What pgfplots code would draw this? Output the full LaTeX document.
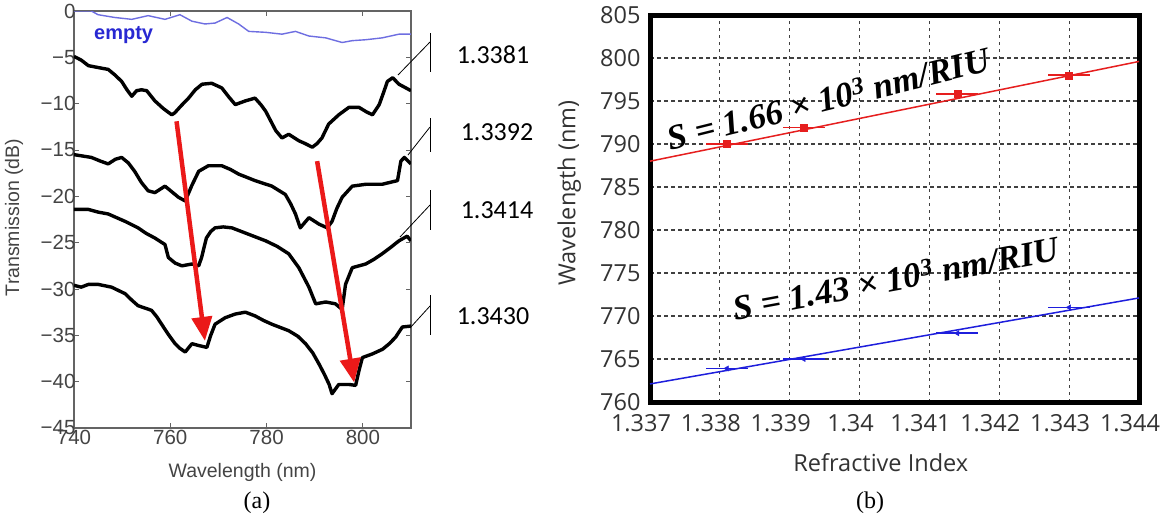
\documentclass[border=0pt]{standalone}
\usepackage{pgfplots}
\pgfplotsset{compat=1.18}
\usepackage{fontspec}
\usetikzlibrary{arrows.meta}
\setmainfont{Liberation Sans}
\newfontfamily\carlito{Carlito}
\newfontfamily\opensans{Open Sans}
\newfontfamily\timesf{Liberation Serif}
\definecolor{arrowred}{RGB}{235,25,25}
\definecolor{emptyblue}{RGB}{110,110,225}
\definecolor{emptytext}{RGB}{40,40,210}
\definecolor{fitred}{RGB}{230,30,30}
\definecolor{fitblue}{RGB}{30,30,220}
\definecolor{axgray}{RGB}{100,100,100}
\definecolor{labgray}{RGB}{68,68,68}
\newcommand{\sens}[1]{{\timesf\bfseries\itshape S = #1 × 10\textsuperscript{3} nm/RIU}}
\begin{document}
\begin{tikzpicture}
\path[use as bounding box, fill=white] (0pt,0pt) rectangle (1166pt,-520pt);
% ---------------- panel (a)
\begin{axis}[
  at={(74pt,-428pt)}, anchor=south west, scale only axis,
  width=337pt, height=417pt,
  xmin=740, xmax=810, ymin=-45, ymax=0,
  xtick={740,760,780,800}, ytick={-45,-40,-35,-30,-25,-20,-15,-10,-5,0},
  yticklabels={−45,−40,−35,−30,−25,−20,−15,−10,−5,0},
  tick align=inside, major tick length=5pt,
  axis line style={axgray, line width=1.3pt},
  tick style={axgray, line width=1pt},
  ticklabel style={font=\fontsize{20.5}{20.5}\selectfont, text=labgray},
  yticklabel style={xshift=5pt},
  xticklabel style={yshift=1pt},
  /pgf/number format/assume math mode=true,
  xlabel={Wavelength (nm)}, ylabel={Transmission (dB)},
  label style={font=\fontsize{19.5}{19.5}\selectfont, text=labgray},
  xlabel style={at={(axis description cs:0.5,-0.107)}, anchor=center},
  ylabel style={at={(axis description cs:-0.178,0.505)}, anchor=center},
  clip=true,
]
\addplot[emptyblue, line width=1.4pt] coordinates {
(740,0)(743.6,0)(745,-0.4)(748.5,-0.7)(752,-0.9)(755.4,-0.5)(758.9,-0.9)(762,-0.4)(764.5,-1.1)(767.2,-1.4)(769.3,-1.3)(771.8,-0.7)(774.2,-1.4)(776.3,-2.2)(779.8,-2.3)(783.2,-2.5)(786,-2.2)(788.8,-2.7)(792.3,-2.9)(795.7,-3.4)(797.8,-3.2)(800.6,-3.1)(804,-2.9)(807.5,-2.5)(810,-2.5)};
\addplot[black, line width=3.4pt, line join=round] coordinates {
(740,-4.9)(741.5,-5.3)(743,-5.9)(745,-6.1)(747.1,-6.3)(748.5,-6.9)(749.9,-7.6)(751,-8.5)(752,-9.2)(753,-8.6)(754,-8.5)(755.1,-8.6)(756.8,-9.7)(758.5,-10.5)(760.3,-11.2)(760.9,-11)(762.3,-10.2)(763.8,-9.4)(765.2,-8.5)(766.6,-7.9)(768.6,-7.8)(770.7,-8.3)(772.2,-9.3)(773.5,-10.1)(775.6,-9.7)(777.6,-9.4)(778.8,-10.1)(779.8,-10.8)(781,-12)(781.9,-12.9)(783.2,-13.7)(784.6,-13.3)(786.7,-14)(788,-14.3)(789.5,-14.7)(790.5,-14.3)(791.5,-13.7)(792.9,-12.2)(795,-11.2)(797.1,-10.4)(799.2,-10.4)(800.8,-10.9)(802,-11.2)(803.4,-10.1)(804.3,-8.8)(805.1,-7.6)(806.2,-7.2)(807.5,-7.9)(810,-8.6)};
\addplot[black, line width=3.4pt, line join=round] coordinates {
(740,-15.5)(743.6,-15.8)(745.5,-16.2)(747.1,-16.5)(748.6,-16)(749.9,-15.8)(751.3,-16.4)(752.6,-17.3)(754,-18.5)(755.4,-19.4)(756.8,-19.6)(758.9,-18.9)(760.3,-19.5)(761.7,-20.1)(763.1,-20.5)(764.5,-18.8)(765.9,-17.3)(767.9,-16.7)(770.7,-16.7)(772.5,-17.1)(774.2,-17.6)(777.6,-18.3)(781.1,-18.9)(783.9,-19.8)(785,-20.8)(786,-21.9)(787,-23.4)(788.8,-22.3)(790.9,-23)(792.6,-23.4)(793.6,-22.7)(794.6,-21.3)(795.7,-20.1)(797.8,-18.9)(800.6,-18.7)(804,-18.7)(807.2,-18.3)(807.9,-16.2)(808.6,-15.8)(810,-16.5)};
\addplot[black, line width=3.4pt, line join=round] coordinates {
(740,-21.4)(742.9,-21.4)(745,-21.7)(747.1,-21.9)(750.6,-22.7)(753.3,-23.4)(755,-24)(756.8,-24.5)(758.9,-25.2)(759.6,-26.6)(761,-27.2)(762.4,-27.5)(764.5,-27.3)(765.9,-27.5)(766.5,-26.6)(767.5,-24.5)(768.4,-23.8)(769.3,-23.4)(771,-23.3)(772.8,-23.4)(776.3,-24.1)(779.8,-24.8)(782.2,-25.4)(784.6,-26.2)(786.7,-27.7)(788.8,-29.8)(790.2,-31.6)(792.3,-31.4)(794.3,-31.6)(795.7,-32.2)(796.4,-29.5)(797.8,-27.7)(800.6,-27.3)(802.3,-26.8)(804,-26.2)(805.8,-25.5)(807.5,-24.8)(809.2,-24.3)(810,-24.8)};
\addplot[black, line width=3.4pt, line join=round] coordinates {
(740,-29.6)(741.5,-29.8)(743,-29.5)(745,-29.5)(747.8,-29.8)(750.6,-30.5)(752,-31.2)(753.3,-31.8)(756.1,-32.3)(757.2,-33)(758.2,-33.8)(759.6,-34.9)(761,-35.9)(762,-36.4)(763.1,-36.8)(764.5,-35.9)(765.9,-36.1)(767.6,-36.3)(768.4,-35)(769.3,-33.8)(771.4,-33.1)(773.5,-32.7)(775.6,-32.5)(777.6,-32.9)(779.4,-33.4)(781.1,-33.8)(784.6,-34.5)(786.5,-35.1)(788.1,-35.9)(789.6,-36.9)(790.9,-38.1)(792,-39.2)(793,-40.3)(793.6,-41.3)(795,-40.3)(797.1,-40.3)(798.5,-40.4)(799.2,-38.8)(799.9,-37.4)(802,-37)(804.1,-36.5)(805.5,-35.9)(806.8,-35.2)(808.2,-34.1)(810,-34)};
\draw[arrowred, line width=4.5pt, -{Triangle[length=24pt,width=20pt]}] (axis cs:761.3,-11.9) -- (axis cs:767.2,-35.6);
\draw[arrowred, line width=4.5pt, -{Triangle[length=24pt,width=20pt]}] (axis cs:790.5,-16.2) -- (axis cs:798.2,-40.1);
\node[font=\bfseries\fontsize{20}{20}\selectfont, text=emptytext] at (axis cs:750.3,-2.6) {empty};
\end{axis}
% annotation labels
\draw[black, line width=0.8pt] (430pt,-33pt) -- (430pt,-72pt);
\draw[black, line width=0.8pt] (398pt,-75pt) -- (430pt,-42pt);
\draw[black, line width=0.8pt] (430pt,-118pt) -- (430pt,-152pt);
\draw[black, line width=0.8pt] (408pt,-155pt) -- (430pt,-127pt);
\draw[black, line width=0.8pt] (430pt,-190pt) -- (430pt,-230pt);
\draw[black, line width=0.8pt] (400pt,-237pt) -- (430pt,-205pt);
\draw[black, line width=0.8pt] (430pt,-295pt) -- (430pt,-335pt);
\draw[black, line width=0.8pt] (410pt,-328pt) -- (430pt,-306pt);
\node[font=\carlito\fontsize{26}{26}\selectfont] at (493pt,-55pt) {1.3381};
\node[font=\carlito\fontsize{26}{26}\selectfont] at (497pt,-132pt) {1.3392};
\node[font=\carlito\fontsize{26}{26}\selectfont] at (497pt,-210pt) {1.3414};
\node[font=\carlito\fontsize{26}{26}\selectfont] at (493pt,-316pt) {1.3430};
\node[font=\timesf\fontsize{24}{24}\selectfont] at (257pt,-503pt) {(a)};
\node[font=\timesf\fontsize{24}{24}\selectfont] at (870pt,-503pt) {(b)};
% ---------------- panel (b)
\begin{axis}[
  at={(650pt,-402pt)}, anchor=south west, scale only axis,
  width=489pt, height=387pt,
  xmin=1.337, xmax=1.344, ymin=760, ymax=805,
  xtick={1.337,1.338,1.339,1.340,1.341,1.342,1.343,1.344},
  xticklabels={1.337,1.338,1.339,1.34,1.341,1.342,1.343,1.344},
  ytick={760,765,770,775,780,785,790,795,800,805},
  yticklabels={760,765,770,775,780,785,790,795,800,805},
  major tick length=0pt,
  axis line style={black, line width=5pt},
  grid=major,
  major grid style={black!75, line width=1.2pt, dash pattern=on 3.5pt off 3.5pt},
  ticklabel style={font=\opensans\fontsize{23.5}{23.5}\selectfont, text=black!80},
  yticklabel style={xshift=-6pt},
  xticklabel style={xshift=-9pt, yshift=-9pt},
  /pgf/number format/assume math mode=true,
  xlabel={Refractive Index}, ylabel={Wavelength (nm)},
  label style={font=\opensans\fontsize{23.5}{23.5}\selectfont, text=black!80},
  xlabel style={at={(axis description cs:0.472,-0.157)}, anchor=center},
  ylabel style={at={(axis description cs:-0.165,0.54)}, anchor=center},
  clip=false,
]
\addplot[fitred, line width=1.5pt] coordinates {(1.337,788.0)(1.344,799.6)};
\addplot[fitblue, line width=1.5pt] coordinates {(1.337,762.1)(1.344,772.1)};
\addplot[fitred, only marks, mark=square*, mark size=3.5pt, mark options={fill=fitred, draw=fitred},
  error bars/.cd, x dir=both, x explicit, error bar style={fitred, line width=1.6pt}, error mark=none]
  coordinates {
  (1.3381,790.0) +- (0.0003,0)
  (1.3392,791.9) +- (0.0003,0)
  (1.3414,795.8) +- (0.0003,0)
  (1.3430,798.0) +- (0.0003,0)};
\addplot[fitblue, only marks, mark=triangle*, mark size=3pt, mark options={rotate=90, fill=fitblue, draw=fitblue},
  error bars/.cd, x dir=both, x explicit, error bar style={fitblue, line width=1.6pt}, error mark=none]
  coordinates {
  (1.3381,763.9) +- (0.0003,0)
  (1.3392,765.0) +- (0.0003,0)
  (1.3414,768.0) +- (0.0003,0)
  (1.3430,771.0) +- (0.0003,0)};
\node[rotate=14, font=\fontsize{35}{35}\selectfont] at (axis cs:1.33955,795.3) {\sens{1.66}};
\node[rotate=10.5, font=\fontsize{35}{35}\selectfont] at (axis cs:1.34052,774.4) {\sens{1.43}};
\end{axis}
\end{tikzpicture}
\end{document}
